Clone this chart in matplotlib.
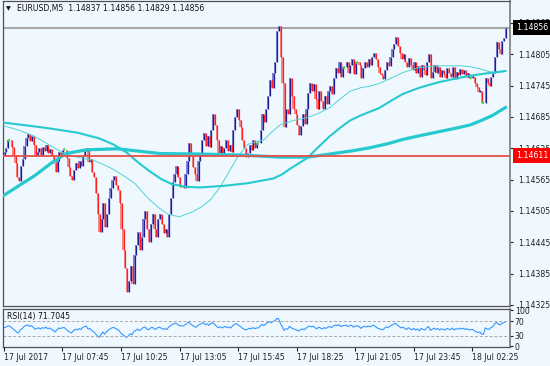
import numpy as np
import matplotlib
matplotlib.use("Agg")
import matplotlib.pyplot as plt
from matplotlib.transforms import blended_transform_factory

BASE = 1.14  # closes below are in points (0.00001) above this

# M5 closes, one per bar
closes = [
    618, 625, 640, 640, 628, 612, 596, 570, 562, 592,
    605, 630, 645, 652, 638, 648, 632, 610, 618, 625,
    612, 628, 620, 632, 616, 624, 610, 596, 580, 600,
    618, 612, 622, 622, 606, 590, 572, 565, 584, 596,
    588, 600, 592, 610, 620, 626, 598, 604, 580, 570,
    540, 500, 465, 490, 520, 475, 500, 530, 548, 565,
    572, 555, 545, 520, 470, 430, 395, 350, 370, 400,
    365, 420, 440, 465, 430, 455, 490, 505, 470, 445,
    480, 500, 470, 455, 490, 500, 480, 462, 470, 455,
    500, 530, 560, 575, 592, 570, 552, 552, 548, 575,
    600, 635, 610, 590, 575, 562, 600, 615, 640, 655,
    630, 648, 628, 660, 690, 670, 640, 615, 630, 612,
    625, 640, 620, 632, 618, 660, 685, 700, 680, 665,
    640, 625, 608, 615, 632, 622, 640, 625, 635, 635,
    660, 690, 675, 700, 725, 755, 740, 770, 790, 850,
    860, 800, 750, 665, 700, 690, 760, 725, 700, 690,
    670, 650, 668, 690, 672, 700, 730, 750, 735, 748,
    720, 700, 735, 715, 700, 725, 710, 735, 745, 728,
    760, 778, 770, 790, 762, 780, 780, 790, 770, 785,
    795, 768, 790, 790, 785, 760, 778, 790, 780, 795,
    785, 800, 808, 795, 780, 770, 765, 758, 775, 790,
    782, 800, 815, 825, 838, 820, 808, 795, 805, 790,
    780, 798, 785, 775, 790, 770, 782, 762, 785, 775,
    765, 790, 805, 760, 772, 785, 770, 780, 762, 775,
    768, 760, 778, 770, 762, 780, 758, 772, 765, 776,
    768, 775, 762, 770, 760, 760, 762, 750, 742, 732,
    735, 712, 712, 760, 750, 745, 762, 770, 800, 828,
    815, 805, 830, 837, 856,
]
first_open = 612

# moving averages (bar index, points)
ma_fast_idx = [0, 8, 16, 24, 32, 40, 49, 58, 67, 72, 76, 80, 85, 90, 96, 103, 108, 113, 118, 123,
               128, 133, 138, 142, 146, 151, 158, 166, 172, 178, 184, 189, 195, 200, 205, 212,
               218, 226, 237, 249, 255, 260, 266, 270, 274]
ma_fast_val = [668, 660, 649, 633, 617, 608, 602, 588, 569, 556, 540, 525, 510, 498, 494, 503, 513,
               527, 550, 580, 610, 632, 638, 641, 655, 670, 678, 684, 692, 703, 720, 734, 741, 744,
               749, 760, 770, 779, 783, 783, 781, 777, 771, 770, 773]
ma_mid_idx = [0, 12, 25, 40, 52, 60, 67, 74, 80, 86, 92, 100, 107, 120, 133, 147, 152, 156, 161,
              166, 172, 178, 184, 189, 195, 200, 205, 212, 218, 227, 237, 246, 255, 265, 274]
ma_mid_val = [674, 669, 663, 655, 644, 632, 617, 596, 580, 566, 556, 551, 550, 553, 558, 567, 575,
              585, 596, 607, 628, 648, 665, 678, 688, 695, 702, 717, 729, 741, 751, 758, 764, 769, 773]
ma_slow_idx = [0, 8, 17, 26, 34, 45, 62, 75, 85, 107, 130, 151, 166, 178, 190, 200, 210, 218, 227,
               238, 249, 255, 260, 267, 274]
ma_slow_val = [535, 553, 573, 597, 615, 622, 624, 619, 615, 614, 612, 608, 608, 614, 620, 626, 634,
               642, 649, 657, 665, 670, 677, 688, 703]

time_labels = ["17 Jul 2017", "17 Jul 07:45", "17 Jul 10:25", "17 Jul 13:05", "17 Jul 15:45",
               "17 Jul 18:25", "17 Jul 21:05", "17 Jul 23:45", "18 Jul 02:25"]
label_step = 32
price_ticks = [1.14865, 1.14805, 1.14745, 1.14685, 1.14625, 1.14565, 1.14505, 1.14445, 1.14385, 1.14325]
bid_price = 1.14856
level_price = 1.14611
rsi_seed = 8  # starting average gain/loss in points
title_text = "EURUSD,M5  1.14837 1.14856 1.14829 1.14856"
rsi_text = "RSI(14) 71.7045"

bg = "#f0f8ff"
fig = plt.figure(figsize=(5.5, 3.66), dpi=100, facecolor=bg)
ax = fig.add_axes([3 / 550, 1 - 306 / 366, 507 / 550, 305 / 366], facecolor=bg)
ax2 = fig.add_axes([3 / 550, 1 - 347 / 366, 507 / 550, 38 / 366], facecolor=bg)

c = BASE + np.array(closes) / 1e5
o = np.r_[BASE + first_open / 1e5, c[:-1]]
x = np.arange(len(c))
lo = np.minimum(o, c)
hi = np.maximum(o, c)
h = np.maximum(hi - lo, 0.00004)

for mask, body, wick in [(c > o, "#7e7ed2", "#1c1c96"), (c < o, "#f48888", "#ff1e1e")]:
    ax.bar(x[mask], h[mask], bottom=lo[mask], width=0.7, color=body, linewidth=0, zorder=2)
    ax.vlines(x[mask] + 0.35, lo[mask], lo[mask] + h[mask], color=wick, lw=0.9, zorder=3)
d = c == o
ax.vlines(x[d], o[d] - 0.00003, o[d] + 0.00003, color="#3ee03e", lw=1.3, zorder=3)

teal = "#26c9cf"
ax.plot(ma_fast_idx, BASE + np.array(ma_fast_val) / 1e5, color="#4fd3d6", lw=0.7, zorder=4)
ax.plot(ma_mid_idx, BASE + np.array(ma_mid_val) / 1e5, color=teal, lw=1.5, zorder=4)
ax.plot(ma_slow_idx, BASE + np.array(ma_slow_val) / 1e5, color=teal, lw=2.3, zorder=4)

ax.axhline(level_price, color="#e8504c", lw=1.3, zorder=5)
ax.axhline(bid_price, color="#a9a9a9", lw=1.5, zorder=1)

ax.set_xlim(-0.5, 276.5)
ax.set_ylim(1.14323, 1.14907)
ax.set_xticks([])
ax.yaxis.tick_right()
ax.set_yticks(price_ticks)
ax.set_yticklabels([f"{p:.5f}" for p in price_ticks])
ax.tick_params(axis="y", labelsize=5.6, length=2.5, width=0.8, pad=3, colors="#222222")

tr = blended_transform_factory(ax.transAxes, ax.transData)
for price, face in [(level_price, "#ff0000"), (bid_price, "#000000")]:
    ax.text(1.012, price, f"{price:.5f}", transform=tr, ha="left", va="center", fontsize=5.6,
            color="white", zorder=10, clip_on=False,
            bbox=dict(boxstyle="square,pad=0.35", facecolor=face, edgecolor="none"))

fig.text(6 / 550, 1 - 9 / 366, "\u25bc", fontsize=4.5, va="center", color="#111111")
fig.text(17 / 550, 1 - 9 / 366, title_text, fontsize=5.6, va="center", color="#111111")

# RSI(14), Wilder smoothing
gain = np.clip(np.diff(np.r_[o[0], c]), 0, None)
loss = np.clip(-np.diff(np.r_[o[0], c]), 0, None)
ag, al = rsi_seed / 1e5, rsi_seed / 1e5
rsi = []
for g, l in zip(gain, loss):
    ag = (ag * 13 + g) / 14
    al = (al * 13 + l) / 14
    rsi.append(100 - 100 / (1 + ag / al))
ax2.plot(x, rsi, color="#3399ff", lw=0.8)
for lvl in (30, 70):
    ax2.axhline(lvl, color="#a8a8a8", lw=0.7, ls=(0, (3, 2)))
ax2.set_xlim(-0.5, 276.5)
ax2.set_ylim(-2, 104)
ax2.yaxis.tick_right()
ax2.set_yticks([100, 70, 30, 0])
ax2.tick_params(axis="y", labelsize=5.6, length=2.5, width=0.8, pad=1, colors="#222222")
ax2.text(4 / 507, 0.92, rsi_text, transform=ax2.transAxes, fontsize=5.6, va="top", color="#111111")

ticks = list(range(0, label_step * len(time_labels), label_step))
ax2.set_xticks(ticks)
ax2.set_xticklabels(time_labels, ha="left")
ax2.tick_params(axis="x", labelsize=5.6, length=3, width=0.8, pad=1.5, colors="#222222")

for a in (ax, ax2):
    for s in a.spines.values():
        s.set_color("#505050")
        s.set_linewidth(0.9)
    a.spines["right"].set_color("#7a7a7a")
    a.spines["right"].set_linewidth(1.2)

fig.savefig("out.png", dpi=100, facecolor=bg)
